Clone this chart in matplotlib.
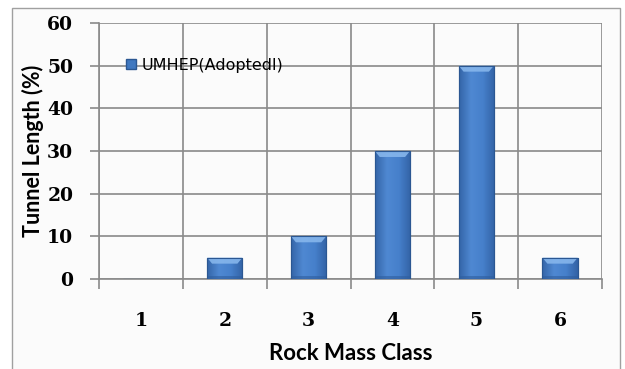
import matplotlib.pyplot as plt
import numpy as np
from matplotlib.patches import Rectangle, Polygon
from matplotlib.colors import LinearSegmentedColormap

# tunnel length share per rock mass class
rock_class = [1, 2, 3, 4, 5, 6]
tunnel_pct = [0, 5, 10, 30, 50, 5]
series_name = 'UMHEP(Adoptedl)'

fig = plt.figure(figsize=(6.25, 3.69), dpi=100)
fig.patch.set_facecolor('white')

# outer chart frame
frame = Rectangle((12 / 625, -0.05), (620 - 12) / 625, 1 - 8 / 369 + 0.05,
                  transform=fig.transFigure, facecolor='#fbfbfb',
                  edgecolor='#a0a0a0', lw=1.0, zorder=-5)
fig.add_artist(frame)

ax = fig.add_axes([99 / 625, 1 - 279 / 369, (602 - 99) / 625, (279 - 23) / 369])
ax.set_facecolor('#fbfbfb')

x = np.arange(len(rock_class))
bars = ax.bar(x, tunnel_pct, width=0.42, color='#4078c0', edgecolor='#2a5a96',
              lw=0.8, zorder=3)

# bevel shading on each bar
shade = LinearSegmentedColormap.from_list('bev', ['#3465a8', '#4f88d2', '#4680cb', '#3363a6'])
grad = np.linspace(0, 1, 64).reshape(1, -1)
for b in bars:
    h = b.get_height()
    if h <= 0:
        continue
    x0, w = b.get_x(), b.get_width()
    im = ax.imshow(grad, cmap=shade, aspect='auto', extent=(x0, x0 + w, 0, h), zorder=3.5)
    im.set_clip_path(b)
    cap = min(1.4, h * 0.3)
    ins = w * 0.14
    ax.add_patch(Polygon([(x0, h), (x0 + w, h), (x0 + w - ins, h - cap), (x0 + ins, h - cap)],
                         closed=True, facecolor='#86b6ec', edgecolor='none', alpha=0.9, zorder=4))
    ax.add_patch(Rectangle((x0, 0), w, min(0.8, h), facecolor='#2f5e9e', edgecolor='none',
                           alpha=0.6, zorder=4))
    ax.add_patch(Rectangle((x0, 0), w, h, fill=False, edgecolor='#2b5792', lw=0.8, zorder=4.5))

ax.set_xlim(-0.5, len(rock_class) - 0.5)
ax.set_ylim(0, 60)
ax.set_yticks(np.arange(0, 61, 10))
ax.set_xticks(x)
ax.set_xticklabels([str(c) for c in rock_class])
ax.set_xticks(np.arange(-0.5, len(rock_class)), minor=True)

ax.grid(axis='y', which='major', color='#8a8a8a', lw=1.2, zorder=1)
ax.grid(axis='x', which='minor', color='#8a8a8a', lw=1.2, zorder=1)
ax.tick_params(axis='x', which='major', length=0, pad=24)
ax.tick_params(axis='x', which='minor', length=7, width=1.2, color='#8a8a8a', direction='out')
ax.tick_params(axis='y', length=6.5, width=1.2, color='#8a8a8a', pad=12)
for s in ['top', 'right']:
    ax.spines[s].set_visible(False)
for s in ['left', 'bottom']:
    ax.spines[s].set_color('#8a8a8a')
    ax.spines[s].set_linewidth(1.2)

for lab in ax.get_xticklabels() + ax.get_yticklabels():
    lab.set_fontfamily('DejaVu Serif')
    lab.set_fontweight('bold')
    lab.set_fontsize(13.5)

ax.set_ylabel('Tunnel Length (%)', fontfamily='Lato', fontweight='bold', fontsize=15.5, labelpad=2)
ax.set_xlabel('Rock Mass Class', fontfamily='Lato', fontweight='bold', fontsize=16, labelpad=9)

leg = ax.legend([Rectangle((0, 0), 1, 1, facecolor='#4078c0', edgecolor='#2b5792')], [series_name],
                loc='upper left', bbox_to_anchor=(0.025, 0.92), frameon=False,
                prop={'family': 'DejaVu Sans', 'size': 11.5}, handlelength=0.6, handleheight=0.6,
                handletextpad=0.4)

fig.savefig('out.png', dpi=100)
